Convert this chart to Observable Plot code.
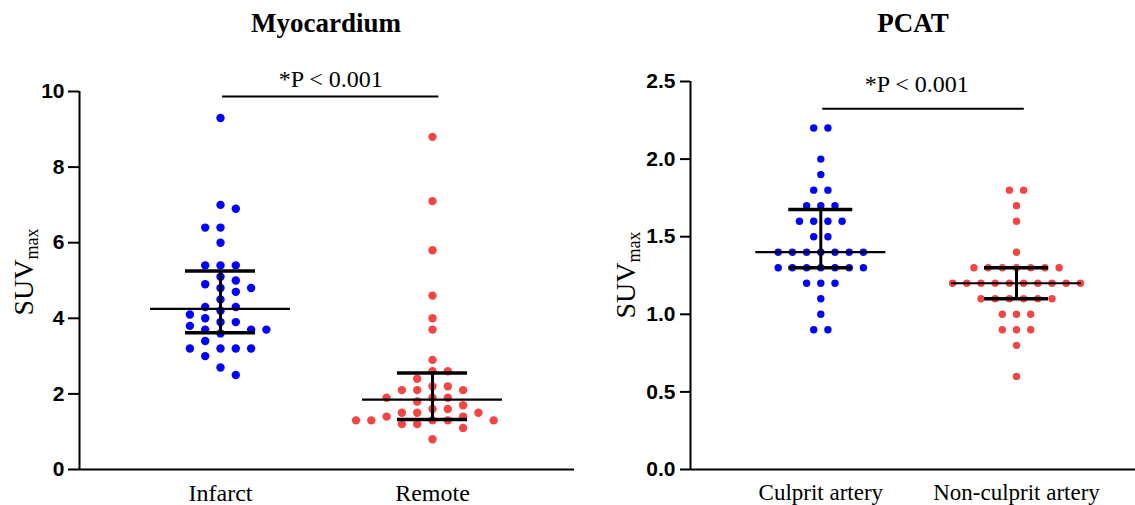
<!DOCTYPE html>
<html><head><meta charset="utf-8">
<script src="https://cdn.jsdelivr.net/npm/d3@7"></script>
<script src="https://cdn.jsdelivr.net/npm/@observablehq/plot@0.6"></script>
<style>
body{margin:0;background:#fff;width:1135px;height:505px;overflow:hidden;position:relative;}
.title{position:absolute;font-family:"Liberation Serif","Times New Roman",serif;font-weight:bold;font-size:27px;transform:translateX(-50%);white-space:nowrap;line-height:1;}
.panel{position:absolute;top:40px;}
</style></head><body>
<div class="title" style="left:326px;top:10px">Myocardium</div>
<div class="title" style="left:913px;top:10px">PCAT</div>
<div class="panel" id="p1" style="left:0px"></div>
<div class="panel" id="p2" style="left:585px"></div>
<script>
// ---- Data: Myocardium ----
const myoGroups = ["Infarct", "Remote"];
const infarct = [9.3, 7.0, 6.9, 6.4, 6.4, 6.0, 5.4, 5.4, 5.4, 5.1, 5.0, 4.9, 4.8, 4.8, 4.7, 4.5, 4.3, 4.3,
  4.2, 4.1, 4.0, 3.9, 3.9, 3.8, 3.7, 3.7, 3.7, 3.6, 3.4, 3.2, 3.2, 3.2, 3.2, 3.0, 2.7, 2.5];
const remote = [8.8, 7.1, 5.8, 4.6, 4.0, 3.7, 2.9, 2.6, 2.6, 2.4, 2.2, 2.2, 2.1, 2.1, 2.1, 1.9, 1.9, 1.9,
  1.8, 1.7, 1.6, 1.6, 1.5, 1.5, 1.5, 1.4, 1.4, 1.3, 1.3, 1.3, 1.3, 1.3, 1.2, 1.2, 1.1, 0.8];
const myoMedian = [4.25, 1.85];
const myoQ1 = [3.62, 1.32];
const myoQ3 = [5.25, 2.55];
const myoTicks = [0, 2, 4, 6, 8, 10];

// ---- Data: PCAT ----
const pcatGroups = ["Culprit artery", "Non-culprit artery"];
const culprit = [2.2, 2.2, 2.0, 1.9, 1.8, 1.8, 1.7, 1.7, 1.7, 1.6, 1.6, 1.6, 1.6, 1.5, 1.5,
  1.4, 1.4, 1.4, 1.4, 1.4, 1.4, 1.4, 1.3, 1.3, 1.3, 1.3, 1.3, 1.3, 1.3, 1.2, 1.2, 1.2, 1.1, 1.0, 0.9, 0.9];
const nonCulprit = [1.8, 1.8, 1.7, 1.6, 1.4, 1.3, 1.3, 1.3, 1.3, 1.3, 1.3, 1.3,
  1.2, 1.2, 1.2, 1.2, 1.2, 1.2, 1.2, 1.2, 1.2, 1.2, 1.1, 1.1, 1.1, 1.1, 1.1, 1.1,
  1.0, 1.0, 1.0, 0.9, 0.9, 0.9, 0.8, 0.6];
const pcatMedian = [1.4, 1.2];
const pcatQ1 = [1.3, 1.1];
const pcatQ3 = [1.675, 1.3];
const pcatTicks = [0, 0.5, 1.0, 1.5, 2.0, 2.5];

const pLabel = "*P < 0.001";
const colors = ["#0000ff", "#f44545"];

// ---- layout helpers ----
// greedy column-based scatter (GraphPad-like), columns in half-steps
function swarm(values, pxPerUnit, dyMin) {
  const order = d3.range(values.length).sort((a, b) => d3.descending(values[a], values[b]));
  const placed = [], col = new Array(values.length);
  let bal = 0;
  for (const i of order) {
    const y = values[i] * pxPerUnit;
    const free = c => placed.every(p => Math.abs(p.c - c) > 1 || Math.abs(p.y - y) >= dyMin);
    let c = 0;
    if (!free(0)) {
      for (let k = 1; ; k++) {
        const first = bal > 0 ? -k : k;
        if (free(first)) { c = first; break; }
        if (free(-first)) { c = -first; break; }
      }
    }
    bal += Math.sign(c);
    placed.push({c, y}); col[i] = c;
  }
  return col;
}
// identical values spread symmetrically in a row
function rows(values) {
  const col = new Array(values.length);
  d3.group(d3.range(values.length), i => values[i]).forEach(idx =>
    idx.forEach((i, j) => col[i] = (j - (idx.length - 1) / 2) * 2));
  return col;
}

function panel(o) {
  const {W, H, left, right, top, bottom, c0, spacing, yMax, series, cols, half, r,
         med, q1, q3, ticks, tickFmt, groups, medHalf, capHalf, sigY, sigX2, textY, textX,
         tickFont, labelFont, ylabX, ylabY, tickSize, tickPad} = o;
  const x0 = (left - c0) / spacing, x1 = (W - right - c0) / spacing;
  const pts = [];
  series.forEach((vals, g) => vals.forEach((v, i) =>
    pts.push({g, v, x: g + cols[g][i] * half / spacing})));
  const stats = groups.map((name, g) => ({g, med: med[g], q1: q1[g], q3: q3[g]}));
  const mh = medHalf / spacing, ch = capHalf / spacing;
  const svg = Plot.plot({
    width: W, height: H,
    marginLeft: left, marginRight: right, marginTop: top, marginBottom: bottom,
    style: {background: "white", color: "black", overflow: "visible"},
    x: {domain: [x0, x1]},
    y: {domain: [0, yMax]},
    marks: [
      Plot.axisY(ticks, {tickSize, tickPadding: tickPad, strokeWidth: 2, tickFormat: tickFmt,
        fontFamily: "Liberation Sans, Arial, sans-serif", fontWeight: "bold", fontSize: tickFont, label: null}),
      Plot.axisX([0, 1], {tickSize: 0, tickPadding: 14, tickFormat: i => groups[i],
        fontFamily: "Liberation Serif, Times New Roman, serif", fontSize: labelFont, label: null}),
      Plot.ruleX([x0], {strokeWidth: 2}),
      Plot.ruleY([0], {strokeWidth: 2}),
      Plot.dot(pts, {x: "x", y: "v", r, fill: d => colors[d.g]}),
      Plot.ruleY(stats, {y: "med", x1: d => d.g - mh, x2: d => d.g + mh, strokeWidth: 2.2}),
      Plot.ruleY(stats, {y: "q1", x1: d => d.g - ch, x2: d => d.g + ch, strokeWidth: 3.5}),
      Plot.ruleY(stats, {y: "q3", x1: d => d.g - ch, x2: d => d.g + ch, strokeWidth: 3.5}),
      Plot.ruleX(stats, {x: "g", y1: "q1", y2: "q3", strokeWidth: 3}),
      Plot.ruleY([sigY], {x1: 0.01, x2: sigX2, strokeWidth: 2}),
      Plot.text([pLabel], {x: textX, y: textY, text: d => d, fill: "black",
        fontFamily: "Liberation Serif, Times New Roman, serif", fontSize: 24})
    ]
  });
  const s = d3.select(svg);
  const t = s.append("text")
    .attr("transform", `translate(${ylabX},${ylabY}) rotate(-90)`)
    .attr("text-anchor", "middle")
    .attr("font-family", "Liberation Serif, Times New Roman, serif")
    .attr("font-size", 28).attr("fill", "black");
  t.append("tspan").text("SUV");
  t.append("tspan").attr("font-size", 18).attr("dy", 5).text("max");
  return svg;
}

document.getElementById("p1").append(panel({
  W: 580, H: 465, left: 79, right: 6, top: 51, bottom: 36, c0: 220, spacing: 212, yMax: 10,
  series: [infarct, remote], cols: [swarm(infarct, 37.8, 8.5), swarm(remote, 37.8, 8.5)], half: 7.65, r: 4.2,
  med: myoMedian, q1: myoQ1, q3: myoQ3, ticks: myoTicks, tickFmt: d3.format("d"), groups: myoGroups,
  medHalf: 70, capHalf: 35, sigY: 9.87, sigX2: 1.03, textY: 10.31, textX: 0.52,
  tickFont: 21, labelFont: 24, ylabX: 33, ylabY: 232, tickSize: 11, tickPad: 4
}));
document.getElementById("p2").append(panel({
  W: 550, H: 465, left: 105, right: 0, top: 41, bottom: 36, c0: 820.3 - 585, spacing: 195.7, yMax: 2.5,
  series: [culprit, nonCulprit], cols: [rows(culprit), rows(nonCulprit)], half: 7.1, r: 3.7,
  med: pcatMedian, q1: pcatQ1, q3: pcatQ3, ticks: pcatTicks, tickFmt: d3.format(".1f"), groups: pcatGroups,
  medHalf: 65, capHalf: 32, sigY: 2.324, sigX2: 1.04, textY: 2.479, textX: 0.49,
  tickFont: 21, labelFont: 23, ylabX: 50, ylabY: 235, tickSize: 10, tickPad: 5
}));
</script>
</body></html>
